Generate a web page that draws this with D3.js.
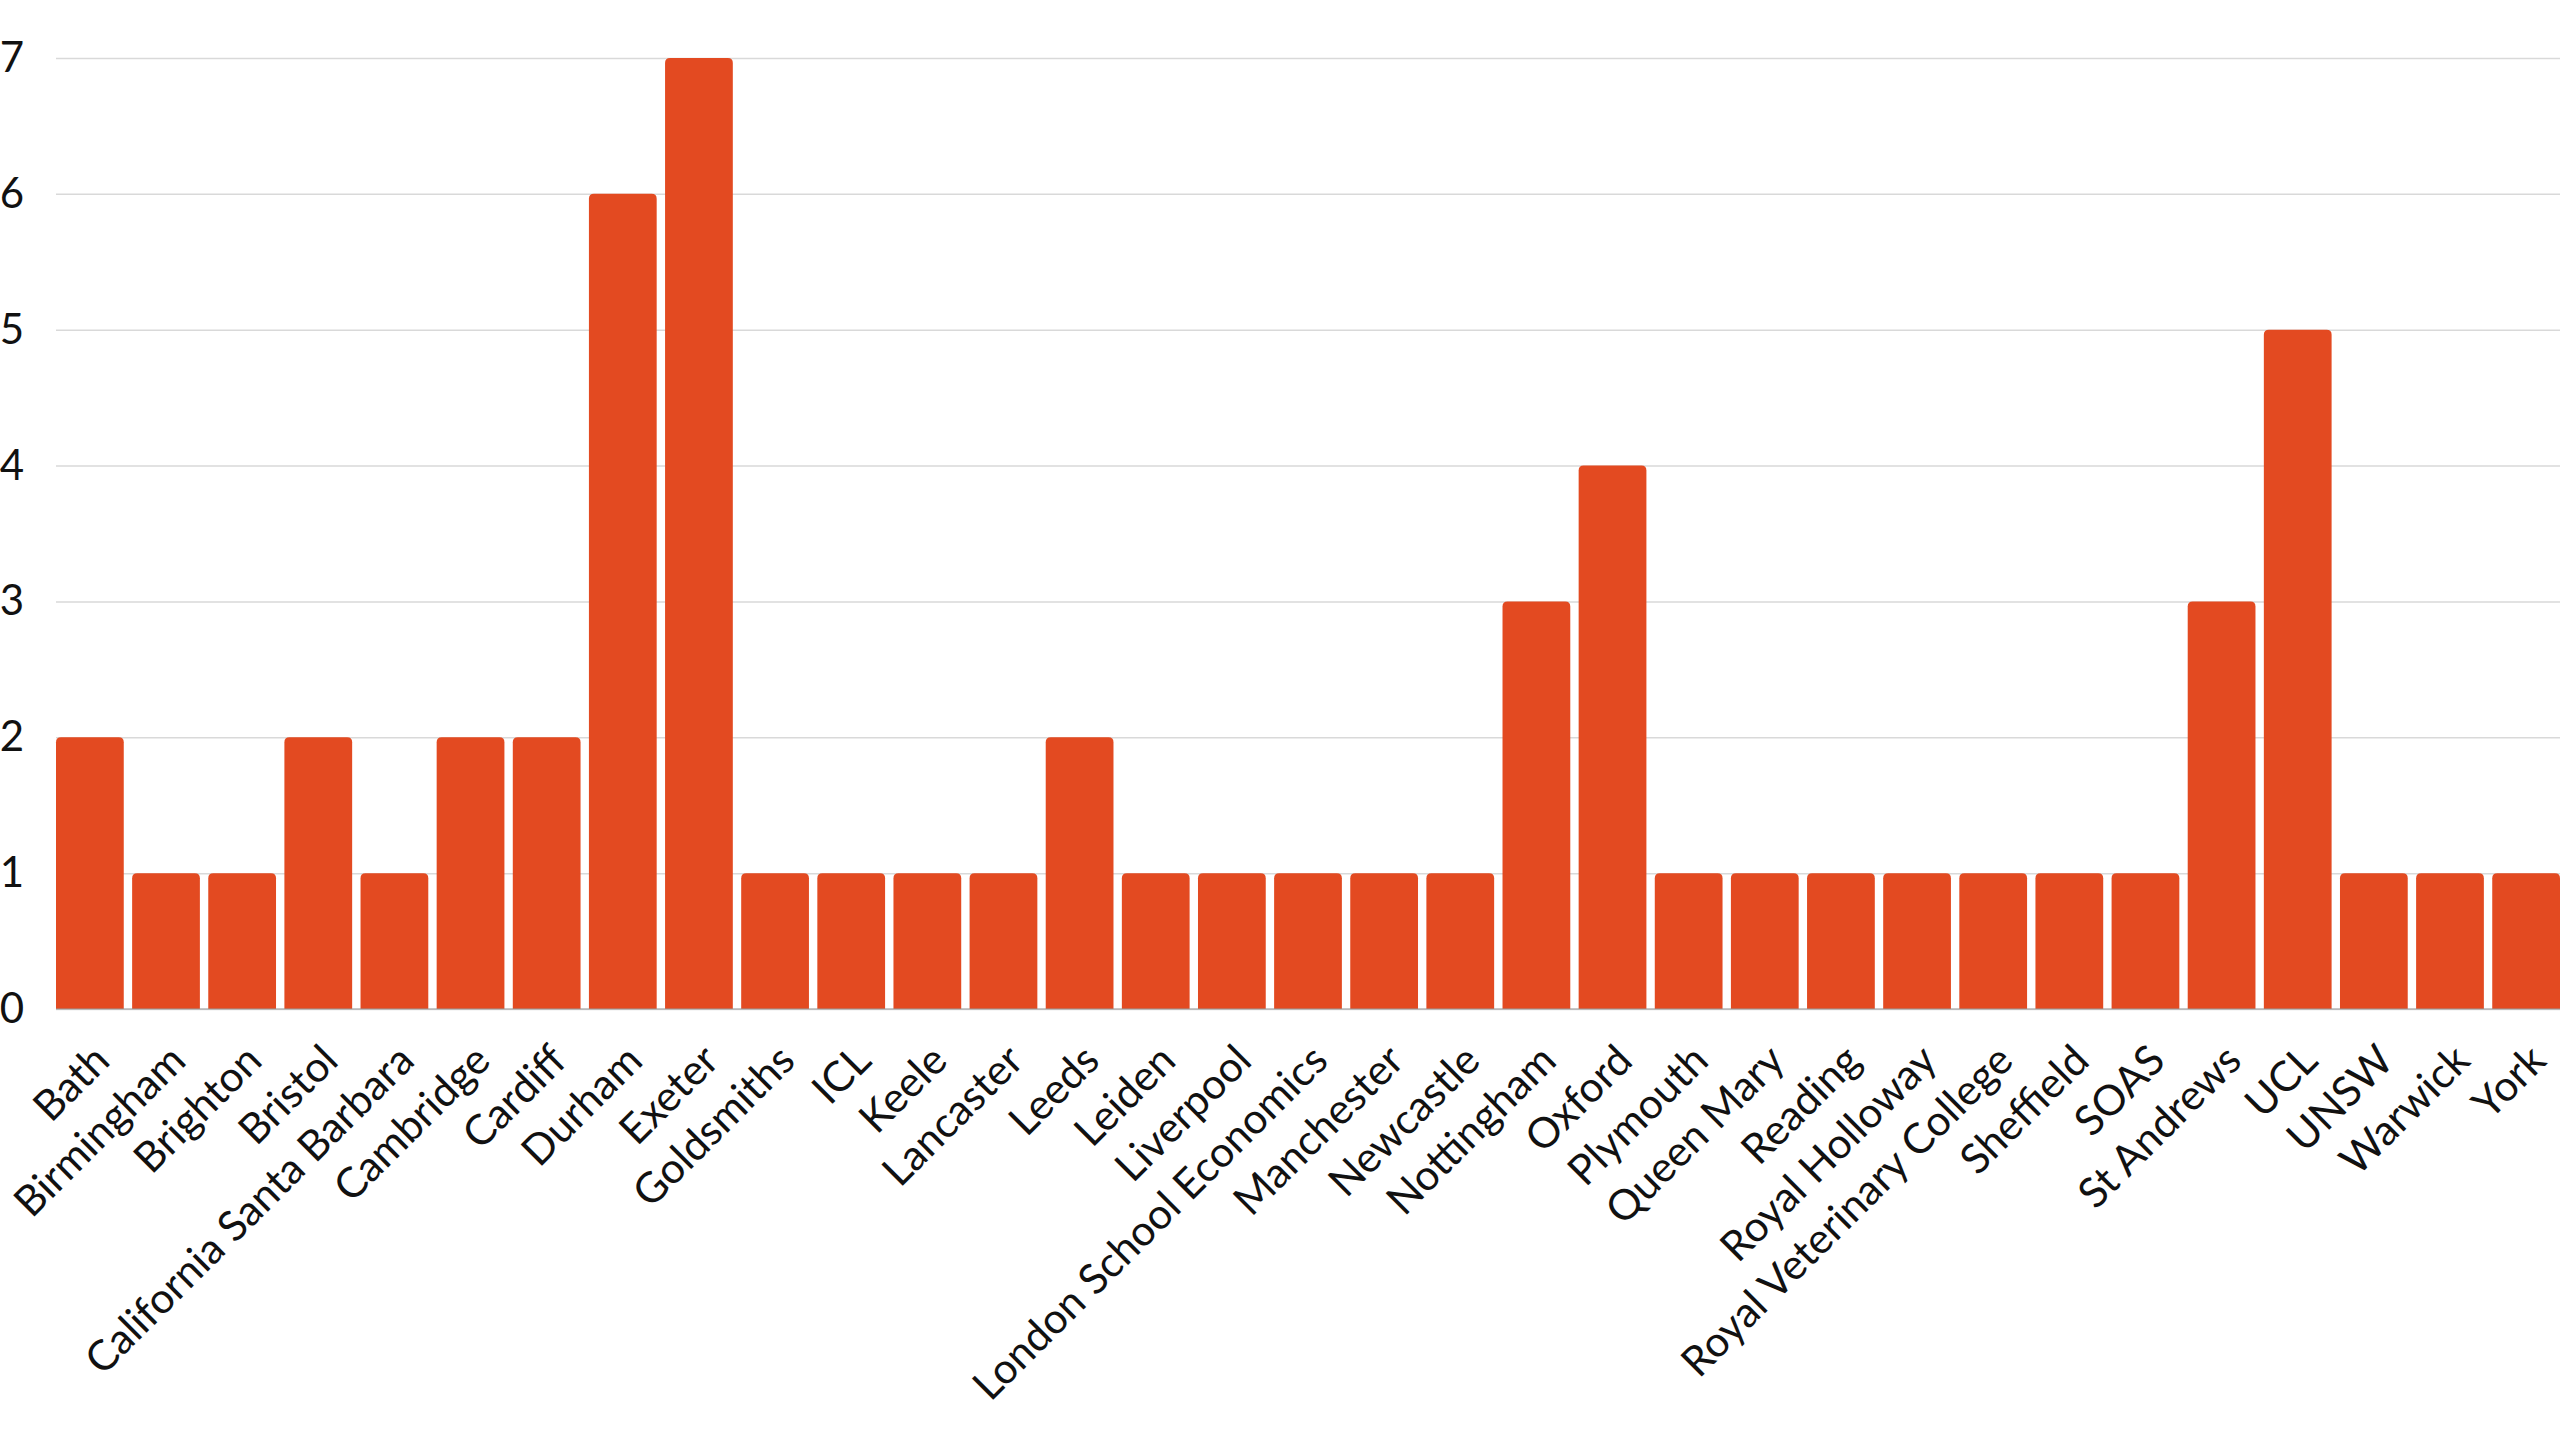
<!DOCTYPE html>
<html>
<head>
<meta charset="utf-8">
<script src="https://cdn.jsdelivr.net/npm/d3@7"></script>
<style>
  body { margin: 0; background: #fff; }
  svg { display: block; font-family: Lato, "Open Sans", sans-serif; }
</style>
</head>
<body>
<div id="chart"></div>
<script>
// data
const universities = ["Bath", "Birmingham", "Brighton", "Bristol", "California Santa Barbara", "Cambridge", "Cardiff", "Durham", "Exeter", "Goldsmiths", "ICL", "Keele", "Lancaster", "Leeds", "Leiden", "Liverpool", "London School Economics", "Manchester", "Newcastle", "Nottingham", "Oxford", "Plymouth", "Queen Mary", "Reading", "Royal Holloway", "Royal Veterinary College", "Sheffield", "SOAS", "St Andrews", "UCL", "UNSW", "Warwick", "York"]
const counts = [2, 1, 1, 2, 1, 2, 2, 6, 7, 1, 1, 1, 1, 2, 1, 1, 1, 1, 1, 3, 4, 1, 1, 1, 1, 1, 1, 1, 3, 5, 1, 1, 1]
const yTicks = [0, 1, 2, 3, 4, 5, 6, 7]

const width = 2560, height = 1440
const margin = { top: 58, right: 0, bottom: 431, left: 56 }
const innerW = width - margin.left - margin.right
const innerH = height - margin.top - margin.bottom

const svg = d3.select("#chart").append("svg").attr("width", width).attr("height", height)
const g = svg.append("g").attr("transform", `translate(${margin.left},${margin.top})`)

const x = d3.scaleBand().domain(universities).range([0, innerW]).paddingInner(0.11).paddingOuter(0)
const y = d3.scaleLinear().domain([0, 7]).range([innerH, 0])

// y axis + gridlines
const yAxis = g.append("g")
  .call(d3.axisLeft(y).tickValues(yTicks).tickSize(-innerW).tickPadding(32).tickFormat(d3.format("d")))
yAxis.select(".domain").remove()
yAxis.selectAll(".tick line").attr("stroke", "#d9d9d9").attr("stroke-width", 1.5)
yAxis.selectAll(".tick text").attr("font-size", 42).attr("fill", "#111").attr("font-family", "Lato")

// bars with rounded top corners
const r = 5
g.selectAll("path.bar")
  .data(counts)
  .enter()
  .append("path")
  .attr("class", "bar")
  .attr("fill", "#e34a21")
  .attr("d", (d, i) => {
    const x0 = x(universities[i]), w = x.bandwidth()
    const y0 = y(d), yb = y(0)
    return `M${x0},${yb} V${y0 + r} Q${x0},${y0} ${x0 + r},${y0} H${x0 + w - r} Q${x0 + w},${y0} ${x0 + w},${y0 + r} V${yb} Z`
  })

// baseline
g.append("line").attr("x1", 0).attr("x2", innerW).attr("y1", y(0)).attr("y2", y(0)).attr("stroke", "#999").attr("stroke-width", 1)

// x axis labels
const xAxis = g.append("g").attr("transform", `translate(0,${innerH})`)
  .call(d3.axisBottom(x).tickSize(0).tickPadding(0))
xAxis.select(".domain").remove()
xAxis.selectAll(".tick text")
  .attr("font-size", 42)
  .attr("font-family", "Lato")
  .attr("fill", "#111")
  .attr("text-anchor", "end")
  .attr("dy", 0)
  .attr("y", 0)
  .attr("transform", "translate(22,54) rotate(-45)")
</script>
</body>
</html>
